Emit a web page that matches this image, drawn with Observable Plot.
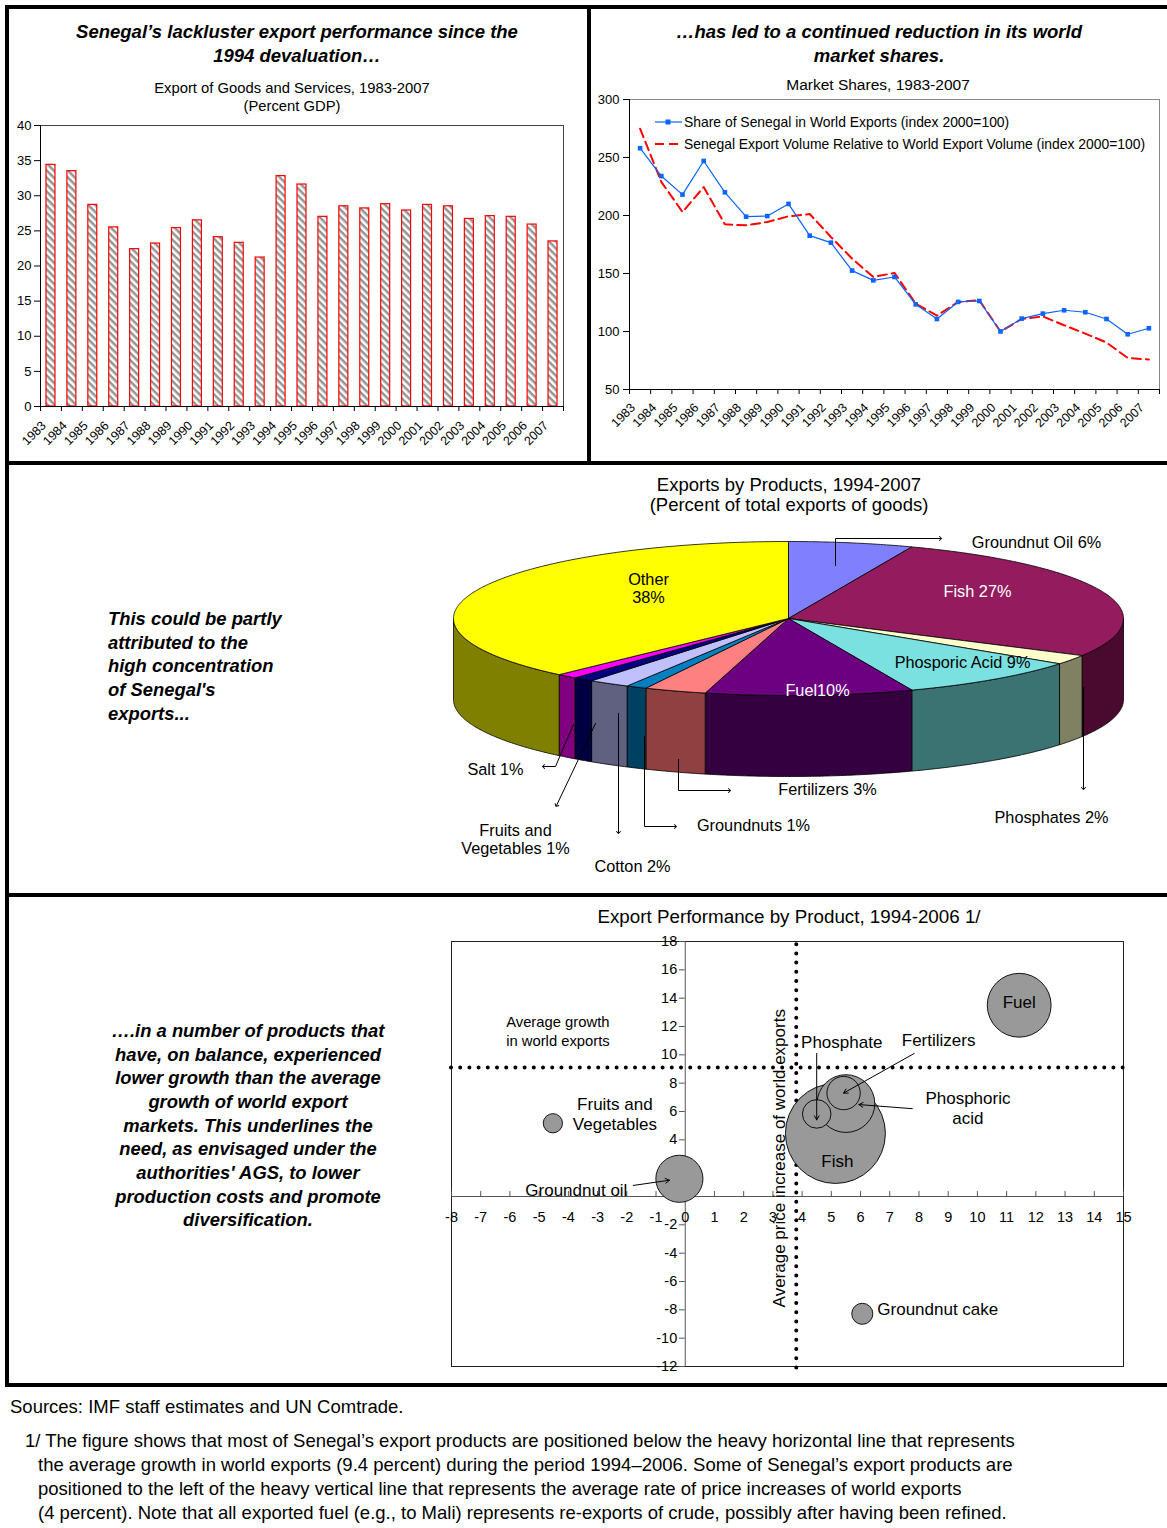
<!DOCTYPE html>
<html><head><meta charset="utf-8"><title>Senegal exports</title>
<script src="https://cdn.jsdelivr.net/npm/d3@7"></script>
<script src="https://cdn.jsdelivr.net/npm/@observablehq/plot@0.6"></script>
<style>
html,body{margin:0;padding:0;background:#fff;}
#page{position:relative;width:1167px;height:1528px;overflow:hidden;background:#fff;font-family:"Liberation Sans",Arial,Helvetica,sans-serif;color:#000;}
.t{position:absolute;white-space:nowrap;}
.rule{position:absolute;background:#000;}
#page svg{overflow:visible;}
</style></head><body><div id="page"></div>
<script>
// ---------------- DATA ----------------
const years = ["1983","1984","1985","1986","1987","1988","1989","1990","1991","1992","1993","1994","1995","1996","1997","1998","1999","2000","2001","2002","2003","2004","2005","2006","2007"];
const exportsPctGDP = [34.4,33.5,28.7,25.5,22.4,23.2,25.4,26.5,24.1,23.3,21.2,32.8,31.6,27.0,28.5,28.2,28.8,27.9,28.7,28.5,26.7,27.1,27.0,25.9,23.5];
const shareWorldExports = [258,234,218,247,220,199,199.5,210,182.6,176.6,152.5,144.1,147,123.4,110.8,125.5,126.3,100,111.1,115.4,118.3,116.6,110.8,97.6,102.8];
const exportVolumeRelative = [274.8,229,203,224.5,192.4,191.5,194.4,199.3,201.3,181.5,162.8,147,150.5,124,113.7,125.5,127,100,110.8,113,105.4,98.2,90.5,77.2,75.8];
const barTicks = [0,5,10,15,20,25,30,35,40];
const lineTicks = [50,100,150,200,250,300];
const seriesNames = ["Share of Senegal in World Exports (index 2000=100)","Senegal Export Volume Relative to World Export Volume (index 2000=100)"];

const pieProducts = ["Groundnut Oil","Fish","Phosphates","Phosporic Acid","Fuel","Fertilizers","Groundnuts","Cotton","Fruits and Vegetables","Salt","Other"];
const pieShares = [6,27,2,9,10,3,1,2,1,1,38];
const pieLabels = ["Groundnut Oil 6%","Fish 27%","Phosphates 2%","Phosporic Acid 9%","Fuel10%","Fertilizers 3%","Groundnuts 1%","Cotton 2%","Fruits and\nVegetables 1%","Salt 1%","Other\n38%"];

const bubbleProducts = ["Fish","Fuel","Phosphoric acid","Groundnut oil","Fertilizers","Phosphate","Groundnut cake","Fruits and Vegetables"];
const bubblePriceIncrease = [5.14,11.43,5.5,-0.2,5.42,4.5,6.06,-4.53];
const bubbleExportGrowth = [4.45,13.5,6.56,1.25,7.3,5.83,-8.28,5.17];
const bubbleShare = [27,11,9,6,3,2.2,1.2,1];
const avgWorldExportGrowth = 9.1;
const avgWorldPriceIncrease = 3.8;
const bubbleXTicks = [-8,-7,-6,-5,-4,-3,-2,-1,0,1,2,3,4,5,6,7,8,9,10,11,12,13,14,15];
const bubbleYTicks = [-12,-10,-8,-6,-4,-2,0,2,4,6,8,10,12,14,16,18];

// ---------------- STYLES ----------------
const FONT = "'Liberation Sans', Arial, Helvetica, sans-serif";
const pieTopColors  = ["#8080FF","#941B5E","#FFFFCC","#7AE0E0","#6C0080","#FF8080","#0080C0","#C0C0FF","#000080","#FF00FF","#FFFF00"];
const pieSideColors = ["#404080","#4A0A2F","#808062","#3B7373","#340040","#904040","#004060","#606080","#000040","#800080","#808000"];
const pieLabelColors = ["#000","#fff","#000","#000","#fff","#000","#000","#000","#000","#000","#000"];
const BLUE = "#0A64FF", RED = "#FF0000";

const page = document.getElementById("page");
function place(el, left, top){ el.style.position="absolute"; el.style.left=left+"px"; el.style.top=top+"px"; page.appendChild(el); return el; }
function addText(lines, x, y, {size=14, weight="normal", italic=false, align="center", lh=null}={}){
  const d = document.createElement("div"); d.className="t";
  const L = lh || size*1.2;
  d.innerHTML = lines.join("<br>");
  d.style.fontSize=size+"px"; d.style.fontWeight=weight; d.style.fontStyle=italic?"italic":"normal";
  d.style.lineHeight=L+"px"; d.style.textAlign=align;
  d.style.left=x+"px"; d.style.top=(y-L/2)+"px";
  if(align==="center") d.style.transform="translateX(-50%)";
  page.appendChild(d); return d;
}
function rule(x,y,w,h){ const d=document.createElement("div"); d.className="rule"; d.style.left=x+"px"; d.style.top=y+"px"; d.style.width=w+"px"; d.style.height=h+"px"; page.appendChild(d); }

// ---------------- BORDERS ----------------
rule(5,5,1162,4);
rule(5,5,4,1382);
rule(587,5,4,459);
rule(5,461,1162,4);
rule(5,893,1162,4);
rule(5,1383,1162,4);

// ---------------- TITLES ----------------
addText(["Senegal’s lackluster export performance since the","1994 devaluation…"],297,32,{size:18.5,weight:"bold",italic:true,lh:24});
addText(["Export of Goods and Services, 1983-2007","(Percent GDP)"],292,88,{size:14.8,lh:18});
addText(["…has led to a continued reduction in its world","market shares."],879,32,{size:18.5,weight:"bold",italic:true,lh:24});
addText(["Market Shares, 1983-2007"],878,85,{size:15.5});
addText(["Exports by Products, 1994-2007","(Percent of total exports of goods)"],789,485,{size:18.5,lh:20});
addText(["This could be partly","attributed to the","high concentration","of Senegal's","exports..."],108,619,{size:18.4,weight:"bold",italic:true,align:"left",lh:23.6});
addText(["Export Performance by Product, 1994-2006 1/"],789,917,{size:18.8});
addText(["….in a number of products that","have, on balance, experienced","lower growth than the average","growth of world export","markets. This underlines the","need, as envisaged under the","authorities' AGS, to lower","production costs and promote","diversification."],248,1031,{size:18.4,weight:"bold",italic:true,lh:23.62});
addText(["Sources: IMF staff estimates and UN Comtrade."],10,1407,{size:18.5,align:"left"});
addText(["1/ The figure shows that most of Senegal’s export products are positioned below the heavy horizontal line that represents"],25,1441,{size:18.5,align:"left"});
addText(["the average growth in world exports (9.4 percent) during the period 1994–2006. Some of Senegal’s export products are","positioned to the left of the heavy vertical line that represents the average rate of price increases of world exports","(4 percent). Note that all exported fuel (e.g., to Mali) represents re-exports of crude, possibly after having been refined."],38,1465,{size:18.5,align:"left",lh:23.7});

// ---------------- BAR CHART ----------------
const barData = years.map((y,i)=>({year:y, value:exportsPctGDP[i]}));
const barStep = 523/years.length;
const bar = Plot.plot({
  width:590, height:340, marginLeft:40, marginRight:27, marginTop:10, marginBottom:49,
  style:{fontFamily:FONT, fontSize:"13px", color:"#000", background:"transparent"},
  x:{domain:years, paddingInner:0.57, paddingOuter:0.285, round:false, label:null},
  y:{domain:[0,40], label:null},
  marks:[
    Plot.frame({stroke:"#444"}),
    Plot.barY(barData,{x:"year", y:"value", fill:"url(#hatch)", stroke:RED, strokeWidth:1.2}),
    Plot.ruleY([0],{stroke:"#000"}),
    Plot.frame({anchor:"left", stroke:"#000"}),
    Plot.axisY({ticks:barTicks, tickSize:6, tickPadding:3, label:null, fontSize:13}),
    Plot.axisX({tickSize:5, tickFormat:()=>"", dx:-barStep/2, label:null}),
    Plot.axisX({ticks:["2007"], tickSize:5, tickFormat:()=>"", dx:barStep/2, label:null}),
    Plot.axisX({tickSize:0, tickRotate:-45, tickPadding:17, dx:-7, label:null, fontSize:12.5})
  ]
});
const ns="http://www.w3.org/2000/svg";
const defs=document.createElementNS(ns,"defs");
defs.innerHTML='<pattern id="hatch" patternUnits="userSpaceOnUse" width="5" height="5" patternTransform="rotate(45)"><rect width="5" height="5" fill="#fff"/><rect width="5" height="2.5" fill="#949494"/></pattern>';
bar.insertBefore(defs, bar.firstChild);
place(bar,0,115);

// ---------------- LINE CHART ----------------
const shareData = years.map((y,i)=>({year:y, v:shareWorldExports[i]}));
const volData = years.map((y,i)=>({year:y, v:exportVolumeRelative[i]}));
const lineStep = 530/years.length;
const line = Plot.plot({
  width:577, height:370, marginLeft:39, marginRight:8, marginTop:9, marginBottom:71,
  style:{fontFamily:FONT, fontSize:"13px", color:"#000", background:"transparent"},
  x:{type:"point", domain:years, padding:0.5, round:false, label:null},
  y:{domain:[50,300], label:null},
  marks:[
    Plot.frame({stroke:"#888"}),
    Plot.ruleY([50],{stroke:"#000"}),
    Plot.frame({anchor:"left", stroke:"#000"}),
    Plot.line(volData,{x:"year", y:"v", stroke:RED, strokeWidth:2, strokeDasharray:"9,5"}),
    Plot.line(shareData,{x:"year", y:"v", stroke:BLUE, strokeWidth:1.2}),
    Plot.dot(shareData,{x:"year", y:"v", symbol:"square", r:2.6, fill:BLUE, stroke:"none"}),
    Plot.axisY({ticks:lineTicks, tickSize:6, tickPadding:4, label:null, fontSize:13}),
    Plot.axisX({tickSize:5, tickFormat:()=>"", dx:-lineStep/2, label:null}),
    Plot.axisX({ticks:["2007"], tickSize:5, tickFormat:()=>"", dx:lineStep/2, label:null}),
    Plot.axisX({tickSize:0, tickRotate:-45, tickPadding:16, dx:-7, label:null, fontSize:12.5})
  ]
});
place(line,590,90);
// legend
const leg = document.createElement("div");
leg.innerHTML = `<svg width="30" height="40" style="position:absolute;left:0;top:0">
  <line x1="0" y1="8" x2="27" y2="8" stroke="${BLUE}" stroke-width="1.2"/><rect x="10.5" y="5.5" width="5" height="5" fill="${BLUE}"/>
  <line x1="0" y1="30" x2="27" y2="30" stroke="${RED}" stroke-width="2" stroke-dasharray="9,5"/></svg>
  <div class="t" style="left:29px;top:0;font-size:13.9px;line-height:16px">${seriesNames[0]}</div>
  <div class="t" style="left:29px;top:22px;font-size:13.9px;line-height:16px">${seriesNames[1]}</div>`;
leg.style.width="500px"; leg.style.height="40px";
place(leg,655,114);

// ---------------- 3D PIE ----------------
const PIE = {cx:348, cy:93, rx:335, ry:77, depth:81};
const total = d3.sum(pieShares);
let acc = 0;
const slices = pieProducts.map((p,i)=>{ const a0=acc/total*2*Math.PI; acc+=pieShares[i]; const a1=acc/total*2*Math.PI; return {p,i,a0,a1}; });
const pt=(t,dz=0)=>({x:PIE.cx+PIE.rx*Math.sin(t), y:PIE.cy-PIE.ry*Math.cos(t)+dz});
function arcPts(a0,a1,dz=0){ const n=Math.max(2,Math.ceil((a1-a0)/0.01)); return d3.range(n+1).map(k=>pt(a0+(a1-a0)*k/n,dz)); }
const wallMarks=[], topMarks=[];
slices.forEach(s=>{
  const lo=Math.max(s.a0,Math.PI/2), hi=Math.min(s.a1,3*Math.PI/2);
  if(lo<hi){
    const top=arcPts(lo,hi,0), bot=arcPts(lo,hi,PIE.depth).reverse();
    const pts=[...top,...bot,top[0]];
    wallMarks.push(Plot.line(pts,{x:"x",y:"y",fill:pieSideColors[s.i],stroke:"#000",strokeWidth:0.8,curve:"linear"}));
  }
  const c={x:PIE.cx,y:PIE.cy};
  const pts=[c,...arcPts(s.a0,s.a1,0),c];
  topMarks.push(Plot.line(pts,{x:"x",y:"y",fill:pieTopColors[s.i],stroke:"#000",strokeWidth:0.8,curve:"linear"}));
});
// label layout (pixel positions inside the pie panel)
const pieLabelPos = {"Groundnut Oil":[596,17],"Fish":[537,66],"Phosphates":[611,292],"Phosporic Acid":[522,137],"Fuel":[377,165],"Fertilizers":[387,264],"Groundnuts":[313,300],"Cotton":[192,341],"Fruits and Vegetables":[75,314],"Salt":[55,244],"Other":[208,63]};
const pieLabelData = pieProducts.map((p,i)=>({x:pieLabelPos[p][0], y:pieLabelPos[p][1], text:pieLabels[i], color:pieLabelColors[i]}));
const leaders = [
  [[395,40],[395,13],[500,13]],
  [[133,199],[115,241],[103,241]],
  [[155,198],[116,280]],
  [[178,188],[178,307]],
  [[204,211],[204,301],[235,301]],
  [[238,234],[238,265],[289,265]],
  [[643,162],[643,263]]
].flatMap((l,k)=>l.map(([x,y])=>({k,x,y})));
const pie = Plot.plot({
  width:727, height:355, margin:0,
  style:{fontFamily:FONT, fontSize:"16px", color:"#000", background:"transparent"},
  x:{domain:[0,727], range:[0,727], axis:null},
  y:{domain:[0,355], range:[0,355], axis:null},
  color:{type:"identity"},
  marks:[
    ...wallMarks, ...topMarks,
    Plot.line(leaders,{x:"x",y:"y",z:"k",stroke:"#000",strokeWidth:1,markerEnd:"arrow"}),
    Plot.text(pieLabelData,{x:"x",y:"y",text:"text",fill:"color",fontSize:16.3,lineHeight:1.12})
  ]
});
place(pie,440,525);

// ---------------- BUBBLE CHART ----------------
const bubbles = bubbleProducts.map((p,i)=>({product:p, x:bubblePriceIncrease[i], y:bubbleExportGrowth[i], share:bubbleShare[i]}));
const bubbleLabelLayout = [
  {product:"Fuel", text:"Fuel", dx:0, dy:-4, anchor:"middle"},
  {product:"Fish", text:"Fish", dx:2, dy:27, anchor:"middle"},
  {product:"Phosphate", text:"Phosphate", dx:25, dy:-72, anchor:"middle"},
  {product:"Fertilizers", text:"Fertilizers", dx:95, dy:-54, anchor:"middle"},
  {product:"Phosphoric acid", text:"Phosphoric\nacid", dx:122, dy:4, anchor:"middle"},
  {product:"Fruits and Vegetables", text:"Fruits and\nVegetables", dx:62, dy:-10, anchor:"middle"},
  {product:"Groundnut oil", text:"Groundnut oil", dx:-52, dy:11, anchor:"end"},
  {product:"Groundnut cake", text:"Groundnut cake", dx:15, dy:-5, anchor:"start"}
];
const arrowLayout = [
  {product:"Phosphate", x1:4.5, y1:10.1, inset:-6},
  {product:"Fertilizers", x1:7.84, y1:10.1, inset:0},
  {product:"Phosphoric acid", x1:7.77, y1:6.2, inset:13},
  {product:"Groundnut oil", x1:-1.78, y1:0.78, inset:10}
];
const byName = Object.fromEntries(bubbles.map(b=>[b.product,b]));
const dotted = {stroke:"#000", strokeWidth:4, strokeLinecap:"round", strokeDasharray:"0,9.2"};
const bub = Plot.plot({
  width:727, height:455, marginLeft:11, marginRight:44, marginTop:16, marginBottom:14,
  style:{fontFamily:FONT, fontSize:"14.5px", color:"#000", background:"transparent"},
  x:{domain:[-8,15], axis:null},
  y:{domain:[-12,18], axis:null},
  r:{type:"sqrt", domain:[0,27], range:[0,50]},
  marks:[
    Plot.frame({stroke:"#222"}),
    Plot.ruleY([0],{stroke:"#555"}),
    Plot.ruleX([0],{stroke:"#555"}),
    Plot.ruleX(bubbleXTicks,{x:d=>d, y1:0, y2:0.35, stroke:"#555"}),
    Plot.ruleY(bubbleYTicks,{y:d=>d, x1:-0.2, x2:0, stroke:"#555"}),
    Plot.text(bubbleXTicks,{x:d=>d, y:0, dy:21, text:d=>String(d), fontSize:14.5}),
    Plot.text(bubbleYTicks,{x:0, y:d=>d, dx:-8, textAnchor:"end", text:d=>String(d), fontSize:14.5}),
    Plot.ruleY([avgWorldExportGrowth],dotted),
    Plot.ruleX([avgWorldPriceIncrease],{...dotted, y1:-12.1, y2:18.1}),
    Plot.dot(bubbles,{x:"x", y:"y", r:"share", fill:"#999", stroke:"#000", strokeWidth:0.9}),
    ...bubbleLabelLayout.map(L=>Plot.text([byName[L.product]],{x:"x", y:"y", text:()=>L.text, dx:L.dx, dy:L.dy, textAnchor:L.anchor, fontSize:17, lineHeight:1.2})),
    ...arrowLayout.map(A=>Plot.arrow([byName[A.product]],{x1:()=>A.x1, y1:()=>A.y1, x2:"x", y2:"y", insetEnd:A.inset, headLength:7, strokeWidth:1, stroke:"#000"})),
    Plot.text(["Average growth\nin world exports"],{x:-6.13, y:avgWorldExportGrowth, dy:-37, textAnchor:"start", fontSize:14.8, lineHeight:1.3}),
    Plot.text(["Average price increase of world exports"],{x:avgWorldPriceIncrease, y:2.7, dx:-17, rotate:-90, fontSize:17})
  ]
});
place(bub,440,925);
</script></body></html>
